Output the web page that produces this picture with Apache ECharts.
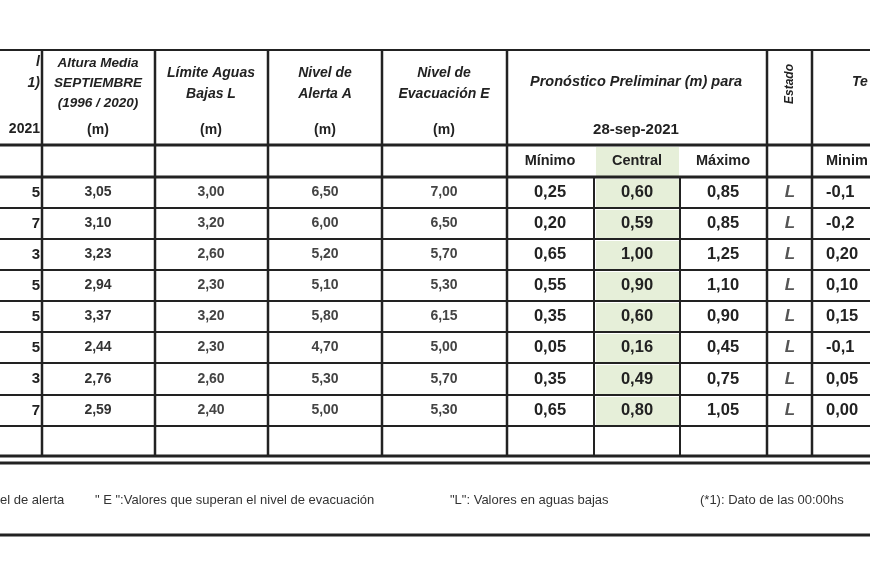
<!DOCTYPE html>
<html lang="es">
<head>
<meta charset="UTF-8">
<script src="https://cdn.jsdelivr.net/npm/echarts@6/dist/echarts.min.js"></script>
<title>Pronóstico</title>
<style>body{margin:0;background:#fff}</style>
</head>
<body>
<div id="main" style="width:870px;height:580px"></div>
<script>
// datos de la tabla
var colTail = ['5', '7', '3', '5', '5', '5', '3', '7'];
var alturaMedia = ['3,05', '3,10', '3,23', '2,94', '3,37', '2,44', '2,76', '2,59'];
var limiteBajas = ['3,00', '3,20', '2,60', '2,30', '3,20', '2,30', '2,60', '2,40'];
var nivelAlerta = ['6,50', '6,00', '5,20', '5,10', '5,80', '4,70', '5,30', '5,00'];
var nivelEvac = ['7,00', '6,50', '5,70', '5,30', '6,15', '5,00', '5,70', '5,30'];
var minimo = ['0,25', '0,20', '0,65', '0,55', '0,35', '0,05', '0,35', '0,65'];
var central = ['0,60', '0,59', '1,00', '0,90', '0,60', '0,16', '0,49', '0,80'];
var maximo = ['0,85', '0,85', '1,25', '1,10', '0,90', '0,45', '0,75', '1,05'];
var estado = ['L', 'L', 'L', 'L', 'L', 'L', 'L', 'L'];
var tendMin = ['-0,1', '-0,2', '0,20', '0,10', '0,15', '-0,1', '0,05', '0,00'];

var rowY = [177, 208, 239, 270, 301, 332, 363, 395, 426, 456];
var g = [];
var F = 'Liberation Sans, Arial, sans-serif';

function line(x1, y1, x2, y2, w) {
  g.push({ type: 'line', shape: { x1: x1, y1: y1, x2: x2, y2: y2 }, style: { stroke: '#222', lineWidth: w || 2 } });
}
function txt(x, y, s, o) {
  o = o || {};
  g.push({ type: 'text', x: x, y: y, rotation: o.rot || 0, style: {
    text: s, x: 0, y: 0, align: o.align || 'center', verticalAlign: 'middle',
    font: (o.italic ? 'italic ' : '') + 'bold ' + (o.size || 13) + 'px ' + F,
    fill: o.fill || '#222', lineHeight: o.lh || 16 } });
}

// fondo verde columna central
g.push({ type: 'rect', shape: { x: 596, y: 147, width: 83, height: 30 }, style: { fill: '#e6efd9' } });
for (var i = 0; i < 8; i++) {
  g.push({ type: 'rect', shape: { x: 596, y: rowY[i] + 2, width: 83, height: rowY[i + 1] - rowY[i] - 3 }, style: { fill: '#e6efd9' } });
}

// líneas horizontales
line(0, 50, 870, 50, 2);
line(0, 145, 870, 145, 3);
line(0, 177, 870, 177, 3);
for (var r = 1; r < rowY.length; r++) line(0, rowY[r], 870, rowY[r], r === rowY.length - 1 ? 3 : 2);
line(0, 463, 870, 463, 3);
line(0, 535, 870, 535, 3);
// líneas verticales
[42, 155, 268, 382, 507, 767, 812].forEach(function (x) { line(x, 50, x, 456, 2.5); });
[594, 680].forEach(function (x) { line(x, 177, x, 456, 2); });

// encabezados
txt(40, 62, 'l', { italic: true, align: 'right', size: 14 });
txt(40, 83, '1)', { italic: true, align: 'right', size: 14 });
txt(40, 129, '2021', { align: 'right', size: 14 });
txt(98, 83, 'Altura Media\nSEPTIEMBRE\n(1996 / 2020)', { italic: true, size: 13.5, lh: 20 });
txt(98, 130, '(m)', { size: 14 });
txt(211, 84, 'Límite Aguas\nBajas L', { italic: true, size: 14, lh: 21 });
txt(211, 130, '(m)', { size: 14 });
txt(325, 84, 'Nivel de\nAlerta A', { italic: true, size: 14, lh: 21 });
txt(325, 130, '(m)', { size: 14 });
txt(444, 84, 'Nivel de\nEvacuación E', { italic: true, size: 14, lh: 21 });
txt(444, 130, '(m)', { size: 14 });
txt(636, 82, 'Pronóstico Preliminar (m) para', { italic: true, size: 14.5 });
txt(636, 130, '28-sep-2021', { size: 15 });
txt(790, 84, 'Estado', { italic: true, size: 12, rot: Math.PI / 2 });
txt(852, 82, 'Te', { italic: true, align: 'left', size: 14 });
txt(550, 161, 'Mínimo', { size: 14.5 });
txt(637, 161, 'Central', { size: 14.5 });
txt(723, 161, 'Máximo', { size: 14.5 });
txt(826, 161, 'Minim', { size: 14.5, align: 'left' });

// filas
for (var k = 0; k < 8; k++) {
  var cy = (rowY[k] + rowY[k + 1]) / 2;
  txt(40, cy, colTail[k], { size: 15, align: 'right' });
  txt(98, cy, alturaMedia[k], { size: 14, fill: '#333' });
  txt(211, cy, limiteBajas[k], { size: 14, fill: '#444' });
  txt(325, cy, nivelAlerta[k], { size: 14, fill: '#444' });
  txt(444, cy, nivelEvac[k], { size: 14, fill: '#444' });
  txt(550, cy, minimo[k], { size: 16.5 });
  txt(637, cy, central[k], { size: 16.5 });
  txt(723, cy, maximo[k], { size: 16.5 });
  txt(790, cy, estado[k], { size: 17, italic: true, fill: '#555' });
  txt(826, cy, tendMin[k], { size: 16.5, align: 'left' });
}

// notas
var notas = [
  [0, 'el de alerta'],
  [95, '" E ":Valores que superan el nivel de evacuación'],
  [450, '"L": Valores en aguas bajas'],
  [700, '(*1): Dato de las 00:00hs']
];
notas.forEach(function (n) {
  g.push({ type: 'text', x: n[0], y: 500, style: { text: n[1], x: 0, y: 0, align: 'left', verticalAlign: 'middle', font: '13px ' + F, fill: '#333' } });
});

var chart = echarts.init(document.getElementById('main'));
chart.setOption({ backgroundColor: '#fff', graphic: { elements: g } });
</script>
</body>
</html>
